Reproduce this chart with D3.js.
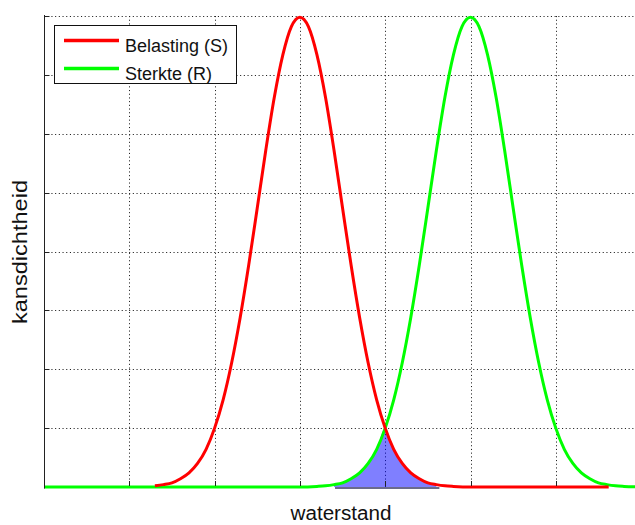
<!DOCTYPE html>
<html><head><meta charset="utf-8">
<script src="https://cdn.jsdelivr.net/npm/d3@7"></script>
<style>body{margin:0;background:#fff}svg{display:block}text{font-family:"Liberation Sans",Arial,sans-serif;fill:#111}</style>
</head><body><svg id="c" width="635" height="525"></svg>
<script>
const seriesNames = ["Belasting (S)", "Sterkte (R)"];
const seriesColors = ["#ff0000", "#00ff00"];
const xLabel = "waterstand";
const yLabel = "kansdichtheid";

const redX = [1.3,1.4,1.5,1.6,1.7,1.8,1.9,2.0,2.1,2.2,2.3,2.4,2.5,2.6,2.7,2.8,2.9,3.0,3.1,3.2,3.3,3.4,3.5,3.6,3.7,3.8,3.9,4.0,4.1,4.2,4.3,4.4,4.5,4.6,4.7,4.8,5.0,5.5,6.0,6.62];
const redY = [0.002,0.004,0.007,0.014,0.024,0.040,0.064,0.100,0.148,0.211,0.288,0.377,0.474,0.572,0.662,0.734,0.782,0.798,0.782,0.734,0.662,0.572,0.474,0.377,0.288,0.211,0.148,0.100,0.064,0.040,0.024,0.014,0.007,0.004,0.002,0.001,0,0,0,0];

const greenX = [0,1,2,3,3.2,3.3,3.4,3.5,3.6,3.7,3.8,3.9,4.0,4.1,4.2,4.3,4.4,4.5,4.6,4.7,4.8,4.9,5.0,5.1,5.2,5.3,5.4,5.5,5.6,5.7,5.8,5.9,6.0,6.1,6.2,6.3,6.4,6.5,6.6,6.7,6.8,7.0];
const greenY = [0,0,0,0,0.001,0.002,0.004,0.007,0.014,0.024,0.040,0.064,0.100,0.148,0.211,0.288,0.377,0.474,0.572,0.662,0.734,0.782,0.798,0.782,0.734,0.662,0.572,0.474,0.377,0.288,0.211,0.148,0.100,0.064,0.040,0.024,0.014,0.007,0.004,0.002,0.001,0];

const overlapX = [3.4,3.5,3.6,3.7,3.8,3.9,4.0,4.1,4.2,4.3,4.4,4.5,4.6];

const xGrid = [1,2,3,4,5,6];
const yGrid = [0.1,0.2,0.3,0.4,0.5,0.6,0.7,0.8];

const svg = d3.select("#c");
const x = d3.scaleLinear().domain([0,7]).range([44,641.1]);
const y = d3.scaleLinear().domain([0,0.8]).range([487,16]);

const red = redX.map((v,i)=>[v,redY[i]]);
const green = greenX.map((v,i)=>[v,greenY[i]]);
const redMap = new Map(red.map(d=>[d[0],d[1]]));
const greenMap = new Map(green.map(d=>[d[0],d[1]]));
const overlap = overlapX.map(v=>[v, Math.min(redMap.get(v), greenMap.get(v))]);

// grid
const grid = svg.append("g").attr("stroke","#222").attr("stroke-width",1).attr("stroke-dasharray","1.1,2.6");
grid.selectAll(".gx").data(xGrid).join("line")
  .attr("x1",d=>Math.round(x(d))+0.5).attr("x2",d=>Math.round(x(d))+0.5)
  .attr("y1",y(0.8)).attr("y2",y(0));
grid.selectAll(".gy").data(yGrid).join("line")
  .attr("x1",x(0)).attr("x2",635)
  .attr("y1",d=>Math.round(y(d))+0.5).attr("y2",d=>Math.round(y(d))+0.5);

// overlap area
svg.append("path").datum(overlap)
  .attr("fill","#0000ff").attr("fill-opacity",0.5)
  .attr("d", d3.area().x(d=>x(d[0])).y0(y(0)).y1(d=>y(d[1])).curve(d3.curveMonotoneX));

const line = d3.line().x(d=>x(d[0])).y(d=>y(d[1])).curve(d3.curveMonotoneX);
svg.append("path").datum(green).attr("fill","none").attr("stroke",seriesColors[1]).attr("stroke-width",3).attr("d",line);
svg.append("path").datum(red).attr("fill","none").attr("stroke",seriesColors[0]).attr("stroke-width",3).attr("d",line);

// dark bottom edge of overlap area
svg.append("line").attr("x1",x(overlapX[0])+1).attr("x2",x(overlapX[overlapX.length-1])+3)
  .attr("y1",y(0)+1).attr("y2",y(0)+1).attr("stroke","#3a3a66").attr("stroke-width",1.5);

// axes
const ax = svg.append("g").attr("stroke","#222").attr("stroke-width",1);
ax.append("line").attr("x1",44.5).attr("x2",44.5).attr("y1",15).attr("y2",488.5);
ax.selectAll(".ty").data(yGrid).join("line")
  .attr("x1",44.5).attr("x2",49.5)
  .attr("y1",d=>Math.round(y(d))+0.5).attr("y2",d=>Math.round(y(d))+0.5);
ax.selectAll(".tx").data(xGrid).join("line")
  .attr("x1",d=>Math.round(x(d))+0.5).attr("x2",d=>Math.round(x(d))+0.5)
  .attr("y1",481).attr("y2",486);

// labels
svg.append("text").attr("x",341).attr("y",520).attr("text-anchor","middle").attr("font-size",20)
  .attr("textLength",101).attr("lengthAdjust","spacingAndGlyphs").text(xLabel);
svg.append("text").attr("transform","translate(27,252) rotate(-90)").attr("text-anchor","middle").attr("font-size",20)
  .attr("textLength",144).attr("lengthAdjust","spacingAndGlyphs").text(yLabel);

// legend
const lg = svg.append("g");
lg.append("rect").attr("x",54.5).attr("y",25.5).attr("width",182).attr("height",58).attr("fill","#fff").attr("stroke","#111").attr("stroke-width",1);
const rows = [40.5, 68.5];
seriesNames.forEach((n,i)=>{
  lg.append("line").attr("x1",64).attr("x2",119).attr("y1",rows[i]).attr("y2",rows[i]).attr("stroke",seriesColors[i]).attr("stroke-width",3.3);
  lg.append("text").attr("x",125).attr("y",rows[i]+11).attr("font-size",18).text(n);
});
</script></body></html>
